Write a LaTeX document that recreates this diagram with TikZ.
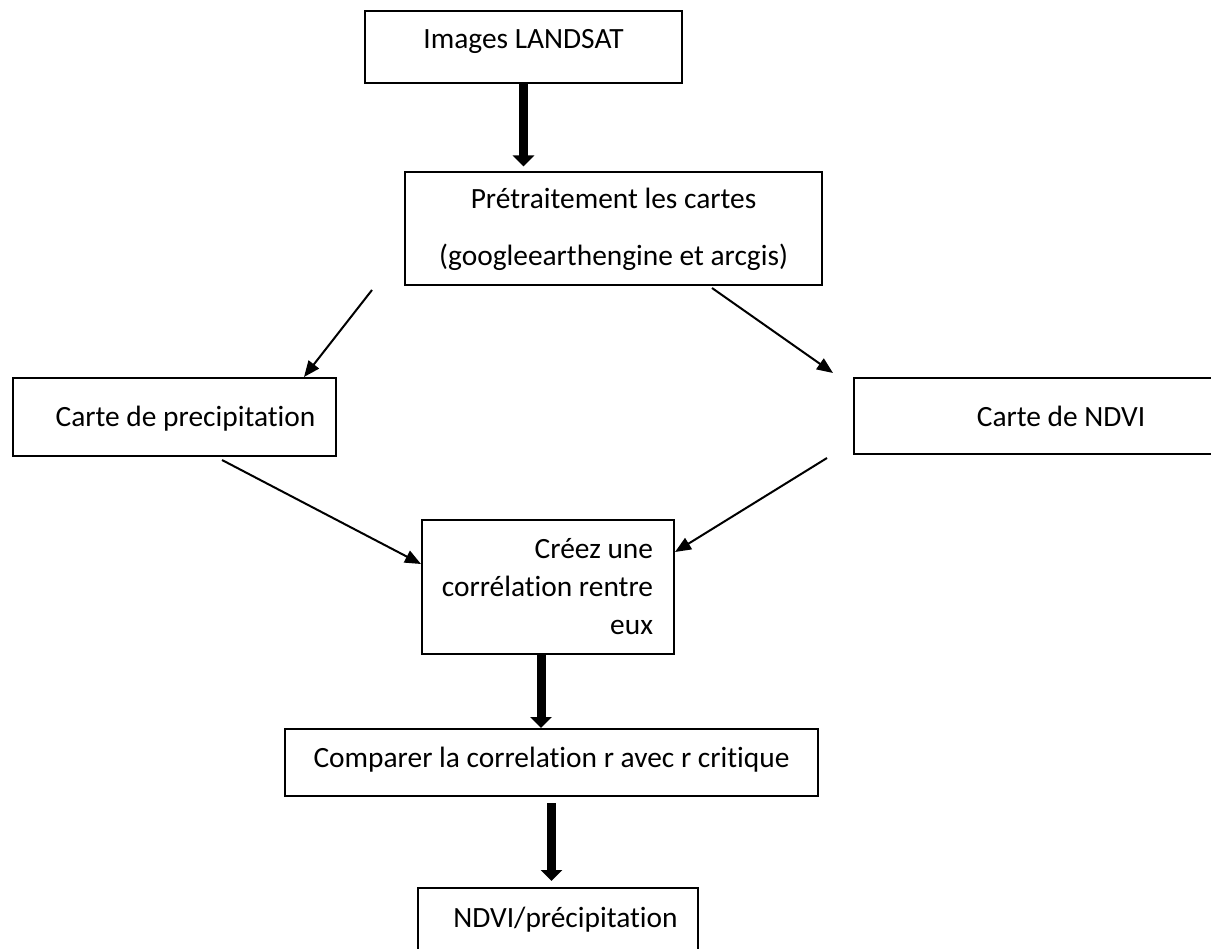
\documentclass[tikz,border=0pt]{standalone}
\usepackage{fontspec}
\setmainfont{Carlito}[Ligatures=NoCommon]
\usepackage{tikz}
\usetikzlibrary{arrows.meta,positioning}

\begin{document}
\begin{tikzpicture}[x=1pt,y=1pt,font=\fontsize{29.4}{38}\selectfont]
\tikzstyle{box}=[draw=black,line width=2pt,inner sep=0pt]
\tikzstyle{arrow}=[line width=2pt,-{Triangle[length=16pt,width=13pt]}]
\tikzstyle{bigarrow}=[line width=9pt,-{Triangle[length=11pt,width=21pt]}]
\useasboundingbox (0,0) rectangle (1211,-949);
\node [box,minimum width=317pt,minimum height=72pt,text height=20pt,text depth=17pt] at (523.5,-47) (img) {Images LANDSAT};
\node [box,minimum width=417pt,minimum height=113pt,align=center] at (613.5,-229) (pre) {Prétraitement les cartes\\[19pt](googleearthengine et arcgis)};
\node [box,minimum width=323pt,minimum height=78pt,text height=20pt,text depth=0pt] at (174.5,-417) (pmap) {\hspace*{22pt}Carte de precipitation};
\node [box,minimum width=414pt,minimum height=76pt,text height=22pt,text depth=0pt] at (1061,-416) (nmap) {Carte de NDVI};
\node [box,minimum width=252pt,minimum height=133pt] at (548,-587) (corr) {\parbox{221pt}{\raggedleft Créez une\\corrélation rentre\\eux}\hspace*{11pt}};
\node [box,minimum width=533pt,minimum height=67pt,text height=20pt,text depth=11pt] at (551.5,-762.5) (comp) {Comparer la correlation r avec r critique};
\node [box,minimum width=280pt,minimum height=80pt,text height=20pt,text depth=22pt] at (558,-928) (res) {\hspace*{15pt}NDVI/précipitation};
% free ends of the thin arrows
\coordinate (pl) at (372,-290);
\coordinate (pr) at (712,-288);
\coordinate (nt) at (833,-373);
\coordinate (pb) at (222,-460);
\coordinate (nb) at (827,-458);
\draw [bigarrow,shorten >=5pt] (img.south) -- (img.south |- pre.north);
\draw [arrow] (pl) -- ([xshift=-33pt]pmap.north east);
\draw [arrow] (pr) -- (nt);
\draw [arrow] (pb) -- ([yshift=23pt]corr.west);
\draw [arrow] (nb) -- ([yshift=35pt]corr.east);
\draw [bigarrow] ([xshift=-7pt]corr.south) -- ([xshift=-7pt]corr.south |- comp.north);
\draw [bigarrow,shorten >=6pt] ([yshift=-6pt]comp.south) -- (comp.south |- res.north);
\end{tikzpicture}
\end{document}
